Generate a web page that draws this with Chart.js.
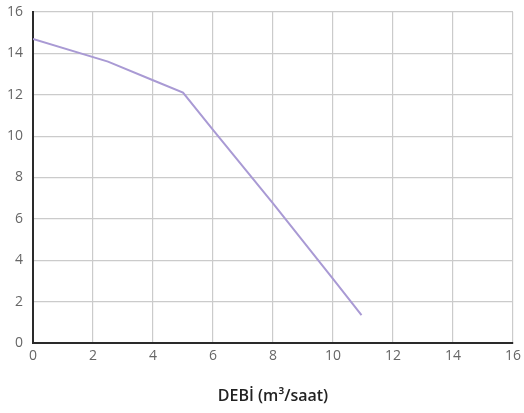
<!DOCTYPE html>
<html>
<head>
<meta charset="utf-8">
<script src="https://cdn.jsdelivr.net/npm/chart.js@4.4.1/dist/chart.umd.min.js"></script>
<style>
  html, body { margin: 0; padding: 0; background: #fff; }
  #wrap { width: 524px; height: 413px; }
</style>
</head>
<body>
<div id="wrap"><canvas id="grafik" width="524" height="413"></canvas></div>
<script>
// Debi (m3/saat) ve basma yüksekliği
const debi    = [0, 2.5, 4, 5, 6, 8, 10, 10.95];
const yukseklik = [14.7, 13.6, 12.7, 12.1, 10.3, 6.75, 3.1, 1.35];
const xTicks = [0, 2, 4, 6, 8, 10, 12, 14, 16];
const yTicks = [0, 2, 4, 6, 8, 10, 12, 14, 16];
const xBaslik = 'DEBİ (m³/saat)';

const fontTick = { family: 'Open Sans', size: 14, weight: '400' };

const ctx = document.getElementById('grafik').getContext('2d');
new Chart(ctx, {
    type: 'line',
    data: {
        datasets: [{
            data: debi.map((x, i) => ({ x: x, y: yukseklik[i] })),
            borderColor: '#a99ad4',
            borderWidth: 2,
            pointRadius: 0,
            tension: 0,
            fill: false
        }]
    },
    options: {
        responsive: false,
        animation: false,
        layout: { padding: { top: 12, right: 11, left: 0, bottom: 0 } },
        plugins: { legend: { display: false }, tooltip: { enabled: false } },
        scales: {
            x: {
                type: 'linear',
                min: 0, max: 16,
                afterBuildTicks: s => { s.ticks = xTicks.map(v => ({ value: v })); },
                afterFit: s => { s.height = 70; s.paddingLeft = 0; s.paddingRight = 0; },
                grid: { color: '#cbcbcb', lineWidth: 1.2, drawTicks: false },
                border: { color: '#2a2a2a', width: 2 },
                ticks: { color: '#666', font: fontTick, padding: 5, maxRotation: 0 },
                title: {
                    display: true, text: xBaslik, color: '#222',
                    font: { family: 'Open Sans', size: 16, weight: '600' },
                    padding: { top: 0, bottom: 7 }
                }
            },
            y: {
                min: 0, max: 16,
                afterBuildTicks: s => { s.ticks = yTicks.map(v => ({ value: v })); },
                afterFit: s => { s.width = 33; s.paddingTop = 0; s.paddingBottom = 0; },
                grid: { color: '#cbcbcb', lineWidth: 1.2, drawTicks: false },
                border: { color: '#2a2a2a', width: 2 },
                ticks: { color: '#666', font: fontTick, padding: 10 }
            }
        }
    }
});
</script>
</body>
</html>
